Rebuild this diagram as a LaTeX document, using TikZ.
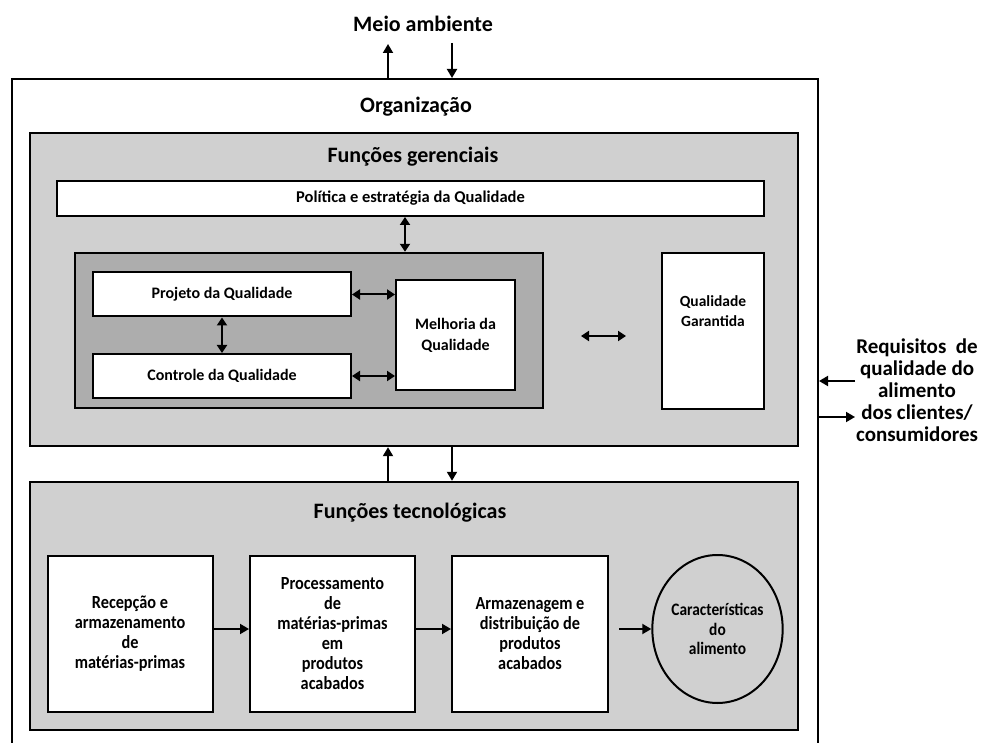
\documentclass[tikz,border=0pt]{standalone}
\usepackage{fontspec}
\setmainfont{Carlito}
\newfontfamily\narrowfont[FakeStretch=0.88]{Carlito}
\usetikzlibrary{arrows.meta,shapes.geometric}
\definecolor{panelgray}{HTML}{D0D0D0}
\definecolor{innergray}{HTML}{ADADAD}
\begin{document}
\begin{tikzpicture}[x=1pt,y=-1pt,font=\bfseries,
  panel/.style={draw,line width=2.4pt,fill=panelgray,inner sep=0pt},
  inner panel/.style={draw,line width=2.4pt,fill=innergray,inner sep=0pt},
  whitebox/.style={draw,line width=2pt,fill=white,align=center,inner sep=0pt},
  title/.style={font=\fontsize{22}{24}\selectfont\bfseries},
  midtext/.style={font=\fontsize{16}{21}\selectfont\bfseries},
  lowtext/.style={font=\narrowfont\fontsize{18.5}{20}\selectfont\bfseries},
  arr/.style={-{Triangle[length=9pt,width=10pt]},line width=1.8pt},
  darr/.style={{Triangle[length=8pt,width=10pt]}-{Triangle[length=8pt,width=10pt]},line width=2pt}]
\useasboundingbox (0,0) rectangle (999,743);

% organisation frame, open towards the lower edge
\node[draw,line width=2pt,minimum width=806,minimum height=700,inner sep=0pt] (org) at (415,429) {};
\node[title] (meio) at (423,24) {Meio ambiente};
\node[title] (orgtitle) at (416,107) {Organização};
\coordinate (meioup) at (388,44);
\coordinate (meiodown) at (452,43);
\draw[arr] (org.north -| meioup) -- (meioup);
\draw[arr] (meiodown) -- (org.north -| meiodown);

% management functions
\node[panel,minimum width=768,minimum height=313] (ger) at (414,289.5) {};
\node[title] (gertitle) at (413,157) {Funções gerenciais};
\node[whitebox,minimum width=707,minimum height=35,font=\fontsize{16.5}{18}\selectfont\bfseries] (pol) at (410.5,198.5) {Política e estratégia da Qualidade};
\node[inner panel,minimum width=468,minimum height=155] (dark) at (309,330.5) {};
\node[whitebox,minimum width=258,minimum height=44,midtext] (proj) at (222,294.5) {Projeto da Qualidade};
\node[whitebox,minimum width=258,minimum height=44,midtext] (ctrl) at (222,376) {Controle da Qualidade};
\node[whitebox,minimum width=119,minimum height=110,midtext] (melh) at (455.5,335) {Melhoria da\\Qualidade};
\node[whitebox,minimum width=102,minimum height=156] (qg) at (713,331) {};
\node[align=center,font=\fontsize{15.5}{20}\selectfont\bfseries] (qgtext) at (713,311) {Qualidade\\Garantida};
\draw[darr] (pol.south -| 405,0) -- (dark.north -| 405,0);
\draw[darr] (proj.south) -- (ctrl.north);
\draw[darr] (proj.east) -- (proj.east -| melh.west);
\draw[darr] (ctrl.east) -- (ctrl.east -| melh.west);
\coordinate (link1) at (581,336);
\coordinate (link2) at (626,336);
\draw[darr] (link1) -- (link2);

% technological functions
\node[panel,minimum width=768,minimum height=248] (tec) at (414,606) {};
\node[title] (tectitle) at (410,513) {Funções tecnológicas};
\draw[arr] (tec.north -| meioup) -- (ger.south -| meioup);
\draw[arr] (ger.south -| meiodown) -- (tec.north -| meiodown);
\node[whitebox,minimum width=165,minimum height=156,lowtext] (rec) at (130,634) {Recepção e\\armazenamento\\de\\matérias-primas};
\node[whitebox,minimum width=165,minimum height=156,lowtext] (proc) at (332.5,634) {Processamento\\de\\matérias-primas\\em\\produtos\\acabados};
\node[whitebox,minimum width=156,minimum height=156,lowtext] (arm) at (530,634) {Armazenagem e\\distribuição de\\produtos\\acabados};
\node[ellipse,draw,line width=2pt,fill=panelgray,minimum width=129,minimum height=148,inner sep=0pt,align=center,lowtext,font=\narrowfont\fontsize{17.5}{19.5}\selectfont\bfseries] (carac) at (717.5,629) {Características\\do\\alimento};
\draw[arr] (rec.east |- 0,629) -- (proc.west |- 0,629);
\draw[arr] (proc.east |- 0,629) -- (arm.west |- 0,629);
\draw[arr] ([xshift=10pt]arm.east |- 0,629) -- (carac.west);

% customer requirements
\node[align=center,font=\fontsize{21}{22}\selectfont\bfseries] (req) at (917,390) {Requisitos~ de\\qualidade do\\alimento\\dos clientes/\\consumidores};
\coordinate (reqin) at (855,381);
\coordinate (reqout) at (855,417);
\draw[arr] (reqin) -- (org.east |- reqin);
\draw[arr] (org.east |- reqout) -- (reqout);
\end{tikzpicture}
\end{document}
